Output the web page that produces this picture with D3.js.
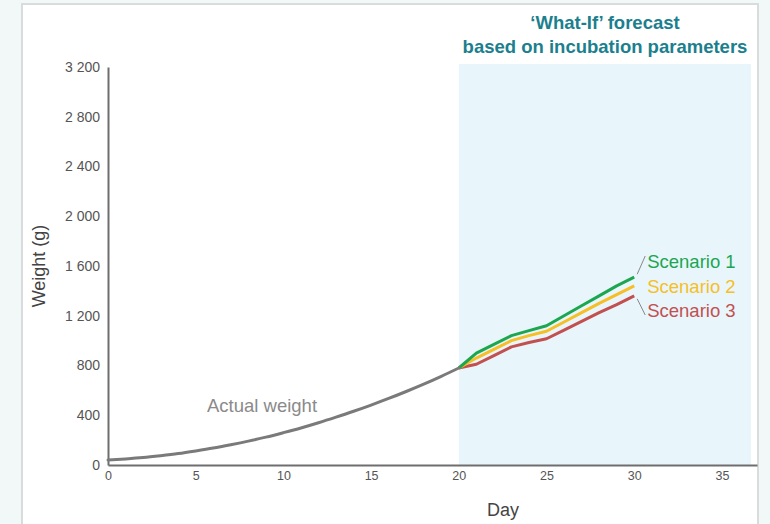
<!DOCTYPE html>
<html>
<head>
<meta charset="utf-8">
<script src="https://cdn.jsdelivr.net/npm/d3@7"></script>
<style>
  body { margin:0; background:#f2f7f8; }
  svg { display:block; font-family:"Liberation Sans", Arial, sans-serif; }
  .tick text { fill:#555; font-family:"Liberation Sans", Arial, sans-serif; }
  .xax .tick text { font-size:12.5px; }
  .yax .tick text { font-size:14px; }
</style>
</head>
<body>
<div id="chart"></div>
<script>
// actual weight, days 0..20
let actualDays = [0,1,2,3,4,5,6,7,8,9,10,11,12,13,14,15,16,17,18,19,20];
let actualWeight = [40,49,60,75,92,113,136,163,192,224,260,298,340,385,432,482,535,591,650,713,780];

// what-if scenarios, days 20..30
let scenDays = [20,21,22,23,24,25,26,27,28,29,30];
let scenario1 = [780,900,970,1040,1080,1120,1200,1280,1360,1440,1510];
let scenario2 = [780,860,930,1000,1040,1075,1150,1225,1300,1370,1440];
let scenario3 = [780,810,880,950,985,1015,1085,1155,1225,1290,1360];
let scenNames = ["Scenario 1","Scenario 2","Scenario 3"];
let scenColors = ["#1ca64f","#f6bf26","#c2504f"];

let xTicks = [0,5,10,15,20,25,30,35];
let yTicks = [0,400,800,1200,1600,2000,2400,2800,3200];

let W = 770, H = 524;
let svg = d3.select("#chart").append("svg")
    .attr("width", W)
    .attr("height", H);

// card
svg.append("rect")
    .attr("x", 22).attr("y", 4)
    .attr("width", 736).attr("height", 530)
    .attr("fill", "white")
    .attr("stroke", "#d9dcdc")
    .attr("stroke-width", 2);

let x = d3.scaleLinear().domain([0, 37]).range([108, 757]);
let y = d3.scaleLinear().domain([0, 3200]).range([465, 67]);

// forecast zone
svg.append("rect")
    .attr("x", x(20))
    .attr("y", 64)
    .attr("width", x(36.65) - x(20))
    .attr("height", y(0) - 64)
    .attr("fill", "#e8f5fb");

svg.append("text")
    .attr("x", 605).attr("y", 29)
    .attr("text-anchor", "middle")
    .attr("font-size", 18.5).attr("font-weight", "bold")
    .attr("fill", "#1b7f8e")
    .text("\u2018What-If\u2019 forecast");
svg.append("text")
    .attr("x", 605).attr("y", 53)
    .attr("text-anchor", "middle")
    .attr("font-size", 18.5).attr("font-weight", "bold")
    .attr("fill", "#1b7f8e")
    .text("based on incubation parameters");

// axes
let xAxis = svg.append("g")
    .attr("class", "xax")
    .attr("transform", "translate(0," + y(0) + ")")
    .call(d3.axisBottom(x).tickValues(xTicks).tickSize(0).tickPadding(6).tickFormat(d3.format("d")));
xAxis.select(".domain").attr("stroke", "#6e6e6e").attr("stroke-width", 2);

let yAxis = svg.append("g")
    .attr("class", "yax")
    .attr("transform", "translate(" + x(0) + ",0)")
    .call(d3.axisLeft(y).tickValues(yTicks).tickSize(0).tickPadding(8)
        .tickFormat(d => d3.format(",")(d).replace(",", " ")));
yAxis.select(".domain").attr("stroke", "#6e6e6e").attr("stroke-width", 2);

svg.append("text")
    .attr("transform", "translate(45," + y(1600) + ") rotate(-90)")
    .attr("text-anchor", "middle")
    .attr("font-size", 18).attr("fill", "#444")
    .text("Weight (g)");

svg.append("text")
    .attr("x", 503).attr("y", 516)
    .attr("text-anchor", "middle")
    .attr("font-size", 18).attr("fill", "#444")
    .text("Day");

let line = d3.line()
    .x(d => x(d[0]))
    .y(d => y(d[1]))
    .curve(d3.curveMonotoneX);

// scenarios
let scen = [scenario1, scenario2, scenario3];
scen.slice().reverse().forEach(function(s, j) {
    let i = 2 - j;
    let pts = scenDays.map((d, k) => [d, s[k]]);
    svg.append("path")
        .attr("d", d3.line().x(d => x(d[0])).y(d => y(d[1]))(pts))
        .attr("fill", "none")
        .attr("stroke", scenColors[i])
        .attr("stroke-width", 3)
        .attr("stroke-linejoin", "round");
});

// actual weight
let apts = actualDays.map((d, k) => [d, actualWeight[k]]);
svg.append("path")
    .attr("d", line(apts))
    .attr("fill", "none")
    .attr("stroke", "#7a7a7a")
    .attr("stroke-width", 3)
    .attr("stroke-linecap", "round");

svg.append("text")
    .attr("x", 207).attr("y", 412)
    .attr("font-size", 18.5).attr("fill", "#8a8a8a")
    .text("Actual weight");

// scenario labels with leader lines
let labelY = [262, 287, 311];
scen.forEach(function(s, i) {
    let endX = x(30), endY = y(s[s.length - 1]);
    if (i != 1) {
        svg.append("line")
            .attr("x1", endX + 3).attr("y1", endY + (i == 0 ? -3 : 3))
            .attr("x2", endX + 11).attr("y2", labelY[i] + (i == 0 ? -6 : 4))
            .attr("stroke", "#888").attr("stroke-width", 1);
    }
    svg.append("text")
        .attr("x", endX + 13).attr("y", labelY[i] + 6)
        .attr("font-size", 18.5).attr("fill", scenColors[i])
        .text(scenNames[i]);
});
</script>
</body>
</html>
